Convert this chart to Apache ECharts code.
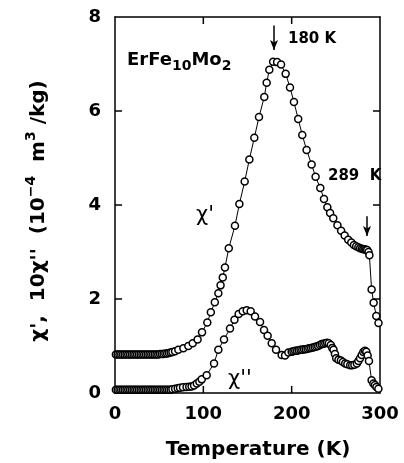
<!DOCTYPE html>
<html><head><meta charset="utf-8">
<script src="https://cdn.jsdelivr.net/npm/echarts@6/dist/echarts.min.js"></script>
<style>html,body{margin:0;padding:0;background:#fff}#c{width:404px;height:463px}</style>
</head><body><div id="c"></div>
<script>
// Temperature (K) and chi' values
const tempChi1 = [1,3,5,7,9,11,13,15,17,19,21,23,25,27,29,31,33,35,37,39,41,43,45,47,49,51,53,55,57,59,61,63,65,68,
  71.7,77.4,83,88,93.5,98.5,104.5,108.5,113,117,119.5,122,124.5,128.8,135.8,140.8,146.8,152.1,157.7,163,169,171.7,174.7,179,183.5,188,193.2,198.1,202.6,207.4,212,216.9,222.6,227.1,232.4,236.6,240.4,243.5,247.1,251.8,256,260,264,267.5,270.5,273,275.5,277.5,279.5,281,282.5,284,285.5,287,288,290.5,292.8,295.8,298.3];
const chi1 = [0.82,0.82,0.82,0.82,0.82,0.82,0.82,0.82,0.82,0.82,0.82,0.82,0.82,0.82,0.82,0.82,0.82,0.82,0.82,0.82,0.82,0.82,0.82,0.82,0.82,0.83,0.83,0.83,0.84,0.84,0.85,0.86,0.87,0.89,
  0.92,0.95,1.0,1.06,1.14,1.29,1.5,1.72,1.93,2.12,2.29,2.46,2.67,3.08,3.56,4.02,4.5,4.97,5.43,5.87,6.3,6.6,6.88,7.05,7.04,6.99,6.79,6.5,6.19,5.83,5.49,5.17,4.86,4.6,4.36,4.13,3.95,3.83,3.72,3.57,3.45,3.35,3.26,3.2,3.15,3.12,3.1,3.08,3.07,3.06,3.06,3.05,3.04,3.0,2.93,2.2,1.92,1.64,1.49];
// Temperature (K) and 10*chi'' values
const tempChi2 = [1,3,5,7,9,11,13,15,17,19,21,23,25,27,29,31,33,35,37,39,41,43,45,47,49,51,53,55,57,59,61,63,65,68,71,73.6,77,81,84,86.7,89.5,92.6,95.5,98.2,103.8,112.1,117,123.4,130.2,135.2,140,144.6,149.1,153.6,158.5,164.2,168.7,172.8,177.4,182.3,188.7,192.5,196.3,200,202,204,206,208,210,212,214,216,218,220,222,224,226,228,230,232,234,236,238,240,242,244.3,246,247.4,249,250.4,253,255.7,258,260.6,263,266.2,268.5,271,273.8,275.5,277.4,279.3,281.1,283,284.5,286,287.5,290.5,292.5,294.3,296,298.2];
const chi2 = [0.07,0.07,0.07,0.07,0.07,0.07,0.07,0.07,0.07,0.07,0.07,0.07,0.07,0.07,0.07,0.07,0.07,0.07,0.07,0.07,0.07,0.07,0.07,0.07,0.07,0.07,0.07,0.07,0.07,0.07,0.07,0.07,0.08,0.09,0.1,0.11,0.12,0.13,0.135,0.14,0.16,0.2,0.24,0.29,0.38,0.63,0.92,1.14,1.37,1.56,1.68,1.74,1.76,1.74,1.63,1.51,1.34,1.22,1.06,0.92,0.81,0.8,0.86,0.88,0.89,0.9,0.9,0.91,0.92,0.92,0.93,0.93,0.94,0.95,0.96,0.97,0.98,0.99,1.0,1.02,1.04,1.05,1.06,1.07,1.06,1.02,0.96,0.92,0.83,0.74,0.71,0.69,0.66,0.63,0.61,0.59,0.59,0.6,0.63,0.68,0.74,0.81,0.87,0.9,0.88,0.8,0.68,0.27,0.2,0.17,0.13,0.09];
const xTicks = [0,100,200,300];
const yTicks = [0,2,4,6,8];
const arrows = [{x:180, y1:7.82, y2:7.3}, {x:285.3, y1:3.76, y2:3.34}];

const FONT = 'DejaVu Sans';
const TL = 7;
const chart = echarts.init(document.getElementById('c'), null, {renderer:'canvas'});
const axisLine = ()=>({show:true, onZero:false, lineStyle:{color:'#000', width:1.5}});
const xBase = {type:'value', min:xTicks[0], max:xTicks[xTicks.length-1], interval:100, splitLine:{show:false}};
const yBase = {type:'value', min:yTicks[0], max:yTicks[yTicks.length-1], interval:2, splitLine:{show:false}};
const mk = (t,v)=>t.map((x,i)=>[x,v[i]]);
const ser = (data, extra)=>Object.assign({
  type:'line', data, symbol:'circle', symbolSize:7, showSymbol:true,
  lineStyle:{color:'#000', width:1}, itemStyle:{color:'#fff', borderColor:'#000', borderWidth:1.5},
  animation:false, z:3
}, extra||{});
const texts = [
    {type:'text', left:127, top:50, style:{text:'{a|ErFe}{s|10}{a|Mo}{s|2}', rich:{
      a:{fontFamily:FONT, fontWeight:'bold', fontSize:18, lineHeight:22, verticalAlign:'top', fill:'#000'},
      s:{fontFamily:FONT, fontWeight:'bold', fontSize:14, lineHeight:22, padding:[9,0,0,0], verticalAlign:'bottom', fill:'#000'}}}},
    {type:'text', x:288, y:39, style:{text:'180 K', fontFamily:FONT, fontWeight:'bold', fontSize:15, fill:'#000', textVerticalAlign:'middle'}},
    {type:'text', x:328, y:176, style:{text:'289  K', fontFamily:FONT, fontWeight:'bold', fontSize:15, fill:'#000', textVerticalAlign:'middle'}},
    {type:'text', x:196, y:216, style:{text:"χ'", fontFamily:FONT, fontSize:21, fill:'#000', textVerticalAlign:'middle'}},
    {type:'text', x:228, y:380, style:{text:"χ''", fontFamily:FONT, fontSize:21, fill:'#000', textVerticalAlign:'middle'}},
    {type:'text', x:258, y:450, style:{text:'Temperature (K)', fontFamily:FONT, fontWeight:'bold', fontSize:20, fill:'#000', textAlign:'center', textVerticalAlign:'middle'}},
    {type:'text', x:37, y:211, rotation:Math.PI/2, style:{text:"{a|χ',  10χ''  (10}{s|−4}{a|  m}{s|3}{a| /kg)}", textAlign:'center', textVerticalAlign:'middle', rich:{
      a:{fontFamily:FONT, fontWeight:'bold', fontSize:20, lineHeight:24, verticalAlign:'bottom', fill:'#000'},
      s:{fontFamily:FONT, fontWeight:'bold', fontSize:14, lineHeight:16, padding:[0,0,11,0], verticalAlign:'bottom', fill:'#000'}}}}
];
chart.setOption({
  animation:false,
  grid:{left:115, right:24, top:17, bottom:70, show:false},
  xAxis:[
    Object.assign({}, xBase, {position:'bottom', axisLine:axisLine(), axisTick:{show:false},
     axisLabel:{color:'#000', fontFamily:FONT, fontWeight:'bold', fontSize:18, margin:12}}),
    Object.assign({}, xBase, {position:'top', axisLine:axisLine(), axisTick:{show:false}, axisLabel:{show:false}})
  ],
  yAxis:[
    Object.assign({}, yBase, {position:'left', axisLine:axisLine(), axisTick:{show:false},
     axisLabel:{color:'#000', fontFamily:FONT, fontWeight:'bold', fontSize:18, margin:14}}),
    Object.assign({}, yBase, {position:'right', axisLine:axisLine(), axisTick:{show:false}, axisLabel:{show:false}})
  ],
  series:[
    ser(mk(tempChi1, chi1), {
      markLine:{silent:true, symbol:['none','arrow'], symbolSize:[6,10], label:{show:false},
        lineStyle:{color:'#000', width:1.5, type:'solid'},
        data: arrows.map(a=>[{coord:[a.x,a.y1]},{coord:[a.x,a.y2]}])}
    }),
    ser(mk(tempChi2, chi2))
  ],
  graphic: texts
});
// inward ticks on all four sides, positioned through the axis scales
const tickEls = [];
const y0 = chart.convertToPixel({yAxisIndex:0}, yTicks[0]);
const y1 = chart.convertToPixel({yAxisIndex:0}, yTicks[yTicks.length-1]);
const x0 = chart.convertToPixel({xAxisIndex:0}, xTicks[0]);
const x1 = chart.convertToPixel({xAxisIndex:0}, xTicks[xTicks.length-1]);
const ls = {stroke:'#000', lineWidth:1.5};
xTicks.slice(1,-1).forEach(t=>{
  const px = chart.convertToPixel({xAxisIndex:0}, t);
  tickEls.push({type:'line', shape:{x1:px, y1:y0, x2:px, y2:y0-TL}, style:ls, z:10});
  tickEls.push({type:'line', shape:{x1:px, y1:y1, x2:px, y2:y1+TL}, style:ls, z:10});
});
yTicks.slice(1,-1).forEach(t=>{
  const py = chart.convertToPixel({yAxisIndex:0}, t);
  tickEls.push({type:'line', shape:{x1:x0, y1:py, x2:x0+TL, y2:py}, style:ls, z:10});
  tickEls.push({type:'line', shape:{x1:x1, y1:py, x2:x1-TL, y2:py}, style:ls, z:10});
});
chart.setOption({graphic: texts.concat(tickEls)});
</script></body></html>
